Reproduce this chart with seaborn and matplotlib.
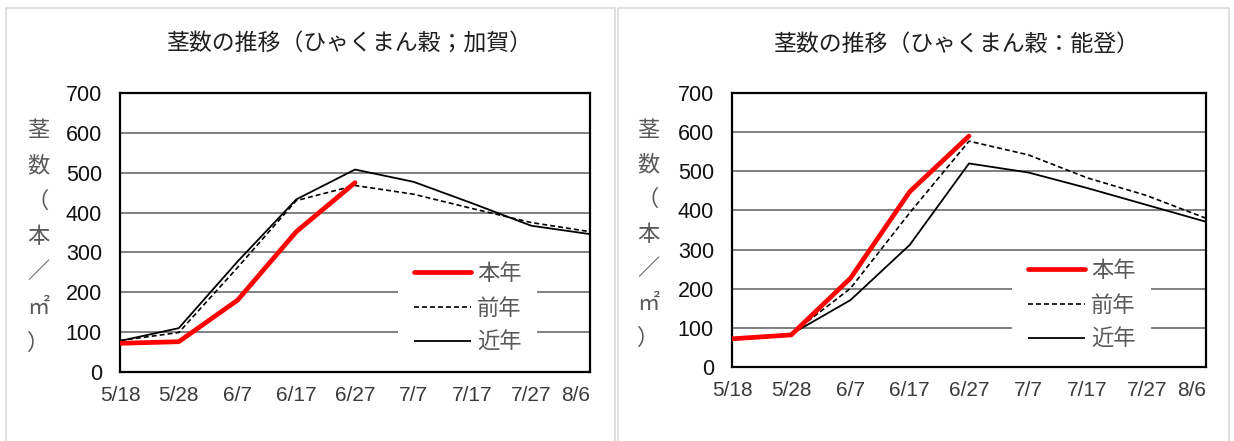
import numpy as np
import pandas as pd
import matplotlib
matplotlib.use("Agg")
import matplotlib.pyplot as plt
import seaborn as sns
from matplotlib import font_manager
from matplotlib.patches import Rectangle
from matplotlib.lines import Line2D

# ---- data -------------------------------------------------------------
dates = ["5/18", "5/28", "6/7", "6/17", "6/27", "7/7", "7/17", "7/27", "8/6"]
series_names = ["本年", "前年", "近年"]
y_ticks = [0, 100, 200, 300, 400, 500, 600, 700]

kaga_this = [72, 76, 180, 352, 475, np.nan, np.nan, np.nan, np.nan]
kaga_prev = [79, 99, 262, 430, 468, 446, 410, 375, 352]
kaga_avg = [78, 110, 277, 433, 508, 477, 423, 367, 346]

noto_this = [72, 82, 227, 448, 590, np.nan, np.nan, np.nan, np.nan]
noto_prev = [74, 84, 201, 394, 577, 542, 483, 438, 380]
noto_avg = [73, 84, 171, 312, 520, 497, 457, 414, 371]

titles = ["茎数の推移（ひゃくまん穀；加賀）", "茎数の推移（ひゃくまん穀：能登）"]
ylabel_chars = ["茎", "数", "（", "本", "／", "㎡", "）"]

# ---- style ------------------------------------------------------------
sns.set_theme(style="white")
plt.rcParams["font.family"] = ["Noto Sans CJK JP", "DejaVu Sans"]

installed = {f.name for f in font_manager.fontManager.ttflist}
narrow = "Liberation Sans Narrow" if "Liberation Sans Narrow" in installed else "Liberation Sans"
narrow_size = 17 if narrow == "Liberation Sans Narrow" else 15.5

W, H = 1234, 441
fig = plt.figure(figsize=(W / 100, H / 100), dpi=100)
fig.patch.set_facecolor("white")


def px_box(x0, y0, x1, y1):
    return [x0 / W, 1 - y1 / H, (x1 - x0) / W, (y1 - y0) / H]


# panel outlines
for x0, x1 in [(6, 615), (618, 1229)]:
    fig.add_artist(Rectangle((x0 / W, -0.01), (x1 - x0) / W, 1 - 8 / H + 0.01,
                             transform=fig.transFigure, fill=False,
                             edgecolor="#d9d9d9", linewidth=1.2))

panels = [
    dict(box=(120, 93, 590, 372), data=(kaga_this, kaga_prev, kaga_avg),
         title_x=349, ylab_x=38, ylab_y0=130, ylab_y1=343,
         leg_box=(398, 257, 537, 357)),
    dict(box=(732, 93, 1206, 367), data=(noto_this, noto_prev, noto_avg),
         title_x=956, ylab_x=648, ylab_y0=130, ylab_y1=338,
         leg_box=(1012, 254, 1151, 354)),
]

styles = {
    "本年": dict(color="#ff0000", lw=3.4, dashes=None),
    "前年": dict(color="#000000", lw=1.2, dashes=(3.0, 1.8)),
    "近年": dict(color="#000000", lw=1.3, dashes=None),
}

for p, title in zip(panels, titles):
    ax = fig.add_axes(px_box(*p["box"]))
    ax0, ay0, ax1, ay1 = p["box"]
    idx = np.arange(len(dates))
    for name, vals in zip(series_names, p["data"]):
        df = pd.DataFrame({"x": idx, "value": vals}).dropna()
        st = styles[name]
        sns.lineplot(data=df, x="x", y="value", ax=ax, color=st["color"],
                     linewidth=st["lw"],
                     solid_capstyle="round" if name == "本年" else "butt",
                     zorder=4 if name == "本年" else 3)
        if st["dashes"] is not None:
            ax.lines[-1].set_dashes(st["dashes"])

    ax.set_xlim(0, len(dates) - 1)
    ax.set_ylim(0, 700)
    ax.set_yticks(y_ticks)
    ax.set_yticklabels([str(v) for v in y_ticks], fontfamily=narrow,
                       fontsize=narrow_size, color="#111111")
    ax.set_xticks(idx)
    ax.set_xticklabels(dates, fontfamily="Liberation Sans", fontsize=15,
                       color="#3a3a3a")
    ax.get_xticklabels()[-1].set_ha("right")
    ax.tick_params(axis="both", length=0)
    ax.tick_params(axis="y", pad=13)
    ax.tick_params(axis="x", pad=10)
    ax.set_xlabel("")
    ax.set_ylabel("")
    ax.yaxis.grid(True, color="#808080", linewidth=1.4)
    ax.xaxis.grid(False)
    ax.set_axisbelow(True)
    for s in ax.spines.values():
        s.set_visible(True)
        s.set_color("#000000")
        s.set_linewidth(1.6)

    # white backing behind the legend entries
    lx0, ly0, lx1, ly1 = p["leg_box"]
    ax.add_patch(Rectangle(((lx0 - ax0) / (ax1 - ax0), (ay1 - ly1) / (ay1 - ay0)),
                           (lx1 - lx0) / (ax1 - ax0), (ly1 - ly0) / (ay1 - ay0),
                           transform=ax.transAxes, facecolor="white",
                           edgecolor="none", zorder=2))

    handles = []
    for name in series_names:
        st = styles[name]
        h = Line2D([], [], color=st["color"], linewidth=st["lw"],
                   solid_capstyle="round" if name == "本年" else "butt")
        if st["dashes"] is not None:
            h.set_dashes(st["dashes"])
        handles.append(h)
    cx = ((lx0 + lx1) / 2 - ax0) / (ax1 - ax0)
    cy = (ay1 - (ly0 + ly1) / 2 - 1) / (ay1 - ay0)
    leg = ax.legend(handles, series_names, loc="center",
                    bbox_to_anchor=(cx, cy), frameon=False,
                    fontsize=16, handlelength=2.6, handletextpad=0.25,
                    labelspacing=0.52, borderpad=0.2, borderaxespad=0)
    leg.set_zorder(5)
    for t in leg.get_texts():
        t.set_color("#595959")

    fig.text(p["title_x"] / W, 1 - 44 / H, title, ha="center", va="center",
             fontsize=16.5, color="#1f1f1f")

    n = len(ylabel_chars)
    step = (p["ylab_y1"] - p["ylab_y0"]) / (n - 1)
    for i, ch in enumerate(ylabel_chars):
        fig.text(p["ylab_x"] / W, 1 - (p["ylab_y0"] + i * step) / H, ch,
                 ha="center", va="center", fontsize=16, color="#595959")

fig.savefig("out.png", dpi=100, facecolor="white")
